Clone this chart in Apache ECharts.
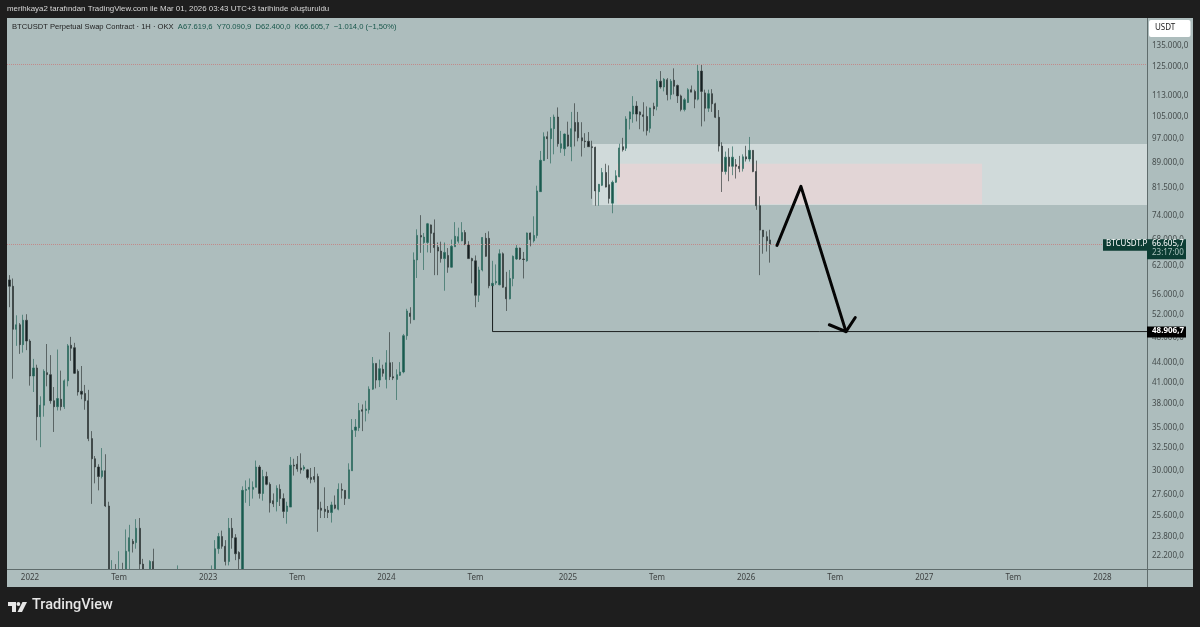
<!DOCTYPE html>
<html>
<head>
<meta charset="utf-8">
<style>
  html, body { margin: 0; padding: 0; background: #1e1e1e; }
  #main { width: 1200px; height: 627px; }
</style>
<script src="https://cdn.jsdelivr.net/npm/echarts@6/dist/echarts.min.js"></script>
</head>
<body>
<div id="main"></div>
<script>
// weekly candles
const firstWeek = '2021-11-22';

const opens = [
  58700,57400,49300,50100,46700,50900,47300,41800,43000,36200,
  37700,42300,42000,38300,37500,38500,37500,41100,46600,46200,
  42500,39600,39300,38300,33500,31200,30300,29300,29900,26400,
  19000,20900,19300,20800,20700,22500,23300,23200,24400,21500,
  20300,20000,21700,19400,18800,19000,19400,19300,19200,20600,
  20900,16300,16300,16400,17100,17100,16700,16800,16600,17100,
  20900,22700,23700,22900,21700,24400,23600,22400,20600,27900,
  28000,28000,28200,30300,27600,29300,28500,26900,26800,28000,
  27100,25900,26300,30500,30600,30200,30100,30000,29200,29300,
  29300,26200,26100,26000,25800,26500,26100,28000,27900,27100,
  29900,34500,34800,37100,37000,37100,39900,43700,41200,42800,
  41300,43800,41700,41300,41900,42400,48200,52200,51000,63000,
  68700,67000,67000,71300,69300,65900,65000,63300,64000,61400,
  66000,67300,67400,69400,66500,63300,62800,55600,60800,68000,
  68000,57500,58100,57700,64400,57200,54900,59000,63200,65700,
  63200,62800,69300,67400,68700,80200,89500,97400,96700,100200,
  104400,93500,93300,98000,94000,102400,102400,97000,95900,95800,
  94000,93800,80200,82000,85800,82200,77000,82900,84500,94000,
  93500,103700,105500,108500,106300,105200,104600,100300,108400,108400,
  118500,116100,119100,113000,118900,116700,112500,107200,109900,115000,
  114300,111200,122800,113700,107700,113400,109400,104300,94200,86100,
  90600,87700,88200,87700,87000,90700,90000,92800,86100,76300,
  70000,68400,67619.6
];
const closes = [
  57400,49300,50100,46700,50900,47300,41800,43000,36200,37700,
  42500,42000,38300,37500,38600,37500,41100,46500,46100,42200,
  39500,39200,38300,33500,31200,30300,29300,29900,26400,19000,
  21000,19300,20800,20700,22500,23600,23100,24400,21500,20300,
  20000,21700,19400,18800,19000,19400,19300,19200,20600,20900,
  16300,16300,16400,17100,17100,16700,16800,16600,17100,20900,
  22700,23700,22900,21700,24400,23600,22300,21900,27900,28000,
  28200,28200,30300,27600,29300,28500,26700,26600,28100,27100,
  25900,26400,30500,30400,30100,30000,30300,29200,29000,29000,
  26100,26000,25900,25800,26500,26200,28000,27900,27100,30000,
  34500,34900,37000,36900,37200,39900,43700,41200,42900,42200,
  43800,41700,41500,42000,42400,48200,52600,51600,63000,68700,
  68300,68300,71600,69200,65800,65000,63300,64700,61400,66100,
  68500,68400,69400,66500,63300,62800,55600,60800,68200,63800,
  57500,58000,58400,64400,57200,54900,59000,63800,65700,63200,
  63100,69300,67700,68700,80400,89600,97400,96700,100200,104400,
  95000,95000,98300,94200,100200,99300,97000,96000,95700,94000,
  93700,80400,82300,85800,81500,78300,82900,84800,93600,93000,
  103700,106300,108500,105500,105200,104600,99500,107800,107400,118500,
  116100,119300,113000,118500,116400,112500,107200,111000,115000,114000,
  111200,122800,114300,107700,113400,109400,104300,94200,86100,90600,
  87700,90600,87700,87000,90700,90000,92800,86100,76300,70000,
  68400,67400,66605.7
];
const highs = [
  59700,59000,51800,50400,51900,52000,47600,44400,43500,38900,
  42800,46800,45000,40200,45900,42600,41300,46800,48000,47000,
  42800,43300,40500,39800,34400,31500,30600,32400,31700,26800,
  21800,21500,22500,21600,24300,24700,23500,25200,25300,21900,
  20600,21800,22700,19900,20400,20400,19600,19700,21000,21400,
  21000,17000,16900,17400,17400,18300,17000,16900,17200,21400,
  23400,24000,24200,23400,25300,25300,23900,22500,28300,28900,
  29100,28800,31000,30500,30000,29800,28700,27600,28400,28500,
  27600,26800,31400,31200,31500,31800,30500,30100,30200,30300,
  29600,26800,28200,26400,26800,27400,28600,28600,27900,30700,
  35900,35900,38000,37800,38300,40300,44700,43700,44300,43500,
  45800,48800,43900,42800,43900,48500,53000,53300,64700,70200,
  73800,69300,71800,71400,72700,67000,67200,67000,65700,67700,
  72000,70600,72000,70000,67300,63500,64000,61500,68300,69300,
  69700,62800,62000,65400,64700,60400,60800,64000,66400,65800,
  64800,69400,69400,73500,81900,92600,98900,99200,104400,105300,
  108000,99400,98500,102700,106300,109600,106300,102500,98600,99000,
  96000,94000,82400,87200,88500,88000,83400,86500,95000,97000,
  104700,106500,112400,110400,106500,110000,108400,107900,109800,119400,
  122800,119800,119800,119400,124000,117100,113000,111700,115600,116700,
  115000,125600,125600,115000,115000,115200,109800,107000,95500,92400,
  93500,94100,90000,91000,91500,94300,97300,92800,89500,78900,
  70000,69700,70090.9
];
const lows = [
  53300,41400,46500,45200,45400,45800,40400,39500,33300,32500,
  36200,40300,37900,34300,37000,37000,37200,40300,44100,42100,
  39000,38500,37100,33200,26600,28600,27900,29100,26300,17600,
  18900,18600,18900,18900,20700,20700,22400,22700,21000,19500,
  19500,18500,19300,18100,18500,19000,18200,18900,19200,19900,
  15600,15800,15900,16400,16700,16300,16400,16300,16500,17000,
  20400,22300,22700,21400,21400,22700,21800,20000,19600,26700,
  26400,27100,28200,27100,26900,28400,25800,26300,25900,26400,
  25300,24800,26300,29400,29800,29600,29900,29000,28600,28700,
  24100,25300,25300,25300,24900,26100,26000,27100,26500,27100,
  29900,33700,34400,34400,35600,36600,39800,40000,40200,41700,
  40000,41200,41200,38400,41800,42200,47500,50300,51000,59100,
  64600,60800,64700,64600,59700,59700,62400,56500,60200,61300,
  66000,66800,67300,66400,63200,58000,53300,54300,60500,63700,
  57000,48906.7,57700,57600,57100,52600,54800,57400,63000,63000,
  59000,62600,66100,67000,68000,80100,89400,90000,88600,91500,
  94000,92000,91000,94000,89300,94100,95800,90800,93600,93900,
  78200,76300,76300,81800,81400,76900,74300,82700,84400,92400,
  92600,99900,102300,102800,100000,99200,97800,98800,104800,106900,
  115400,114300,110700,111100,113100,109700,106500,106500,109700,114000,
  107700,110700,101000,102800,106300,106300,104000,92400,80100,85200,
  83200,85000,84000,85900,86100,89200,89200,85900,75200,59700,
  64400,64900,62400
];

const priceTicks = [135000,125000,113000,105000,97000,89000,81500,74000,68000,62000,56000,52000,48000,44000,41000,38000,35000,32500,30000,27600,25600,23800,22200];
const dateTicks = ['2022-01-03','2022-07-04','2023-01-02','2023-07-03','2024-01-01','2024-07-01','2025-01-06','2025-07-07','2026-01-05','2026-07-06','2027-01-04','2027-07-05','2028-01-03'];
const dateLabels = ['2022','Tem','2023','Tem','2024','Tem','2025','Tem','2026','Tem','2027','Tem','2028'];

// drawings on the chart
const lastPrice = 66605.7;
const topLine = 125700;
const supportPrice = 48906.7;
const supportLine = [['2024-08-05', 57500], ['2024-08-05', supportPrice], ['2028-04-03', supportPrice]];
const arrowPath = [['2026-03-09', 66300], ['2026-04-27', 81700], ['2026-07-28', 48900]];
const arrowHead = [['2026-06-24', 50100], ['2026-07-28', 48900], ['2026-08-16', 51400]];
const zoneOuter = [['2025-02-25', 94900], ['2028-04-03', 76500]];
const zoneInner = [['2025-04-16', 88500], ['2027-05-02', 76700]];

const bg = '#adbdbd';
const dark = '#1e1e1e';
const uiFont = '"Noto Sans", sans-serif';
const textFont = '"Liberation Sans", sans-serif';
const yMin = 21130;
const yMax = 148150;
const WEEK = 7 * 24 * 3600 * 1000;
const t0 = new Date(firstWeek + 'T00:00:00Z').getTime();
const toTime = d => new Date(d + 'T00:00:00Z').getTime();
const fmtPrice = v => Math.round(v).toString().replace(/\B(?=(\d{3})+$)/g, '.') + ',0';
const candles = opens.map((o, i) => [t0 + i * WEEK, o, closes[i], lows[i], highs[i]]);
const stamp = arr => arr.map(p => [toTime(p[0]), p[1]]);

const chart = echarts.init(document.getElementById('main'), null, { renderer: 'canvas' });

chart.setOption({
  animation: false,
  backgroundColor: dark,
  grid: {
    left: 7, right: 53, top: 18, bottom: 58,
    show: true, backgroundColor: bg, borderWidth: 0
  },
  xAxis: {
    type: 'time',
    min: toTime('2021-11-17'),
    max: toTime('2028-04-03'),
    splitLine: { show: false },
    axisLine: { show: false },
    axisTick: { show: false },
    axisLabel: { show: false }
  },
  yAxis: {
    type: 'log',
    logBase: 10,
    position: 'right',
    min: yMin,
    max: yMax,
    splitLine: { show: false },
    axisLine: { show: false },
    axisTick: { show: false },
    axisLabel: { show: false }
  },
  series: [
    {
      name: 'zones',
      type: 'line',
      z: 1,
      data: [],
      markArea: {
        silent: true,
        itemStyle: { color: '#d0dada' },
        data: [
          [{ xAxis: toTime(zoneOuter[0][0]), yAxis: zoneOuter[0][1] }, { xAxis: toTime(zoneOuter[1][0]), yAxis: zoneOuter[1][1] }],
          [{ xAxis: toTime(zoneInner[0][0]), yAxis: zoneInner[0][1], itemStyle: { color: '#e2d5d6' } }, { xAxis: toTime(zoneInner[1][0]), yAxis: zoneInner[1][1] }]
        ]
      }
    },
    {
      name: 'BTCUSDT',
      type: 'candlestick',
      z: 3,
      barWidth: 1.7,
      encode: { x: 0, y: [1, 2, 3, 4] },
      data: candles,
      itemStyle: {
        color: '#1a5a4f',
        color0: '#152023',
        borderColor: 'rgba(44,106,94,0.68)',
        borderColor0: 'rgba(50,58,58,0.68)',
        borderWidth: 1
      },
      markLine: {
        silent: true,
        symbol: 'none',
        label: { show: false },
        lineStyle: { type: 'dotted', color: '#c28a8a', width: 1 },
        data: [{ yAxis: topLine }, { yAxis: lastPrice }]
      }
    },
    {
      name: 'support',
      type: 'line',
      z: 4,
      symbol: 'none',
      data: stamp(supportLine),
      lineStyle: { color: '#1c1f1f', width: 1 }
    },
    {
      name: 'arrow',
      type: 'line',
      z: 5,
      symbol: 'none',
      data: stamp(arrowPath),
      lineStyle: { color: '#050505', width: 3, cap: 'round', join: 'round' }
    },
    {
      name: 'arrowHead',
      type: 'line',
      z: 5,
      symbol: 'none',
      data: stamp(arrowHead),
      lineStyle: { color: '#050505', width: 3, cap: 'round', join: 'round' }
    },
    {
      name: 'dateLabels',
      type: 'scatter',
      z: 8,
      clip: false,
      silent: true,
      symbolSize: 0,
      data: dateTicks.map((d, i) => ({ value: [toTime(d), yMin], name: dateLabels[i] })),
      label: {
        show: true, position: 'bottom', distance: 5,
        formatter: p => p.name,
        color: '#222', fontFamily: uiFont, fontSize: 8
      }
    },
    {
      name: 'priceLabels',
      type: 'scatter',
      z: 8,
      clip: false,
      silent: true,
      symbolSize: 0,
      data: priceTicks.map(p => [toTime('2028-04-03'), p]),
      label: {
        show: true, position: 'right', distance: 5, offset: [0, 1],
        formatter: p => fmtPrice(p.value[1]),
        color: '#2a2f2f', fontFamily: uiFont, fontSize: 8
      }
    }
  ]
});

// overlays that follow the price scale
const lastY = chart.convertToPixel({ yAxisIndex: 0 }, lastPrice);
const supportY = chart.convertToPixel({ yAxisIndex: 0 }, supportPrice);

chart.setOption({
  graphic: [
    // price strip, time strip and footer sit over the candles that run below the axis
    { type: 'rect', z: -1, shape: { x: 1147, y: 18, width: 46, height: 569 }, style: { fill: bg } },
    { type: 'rect', z: 7, shape: { x: 7, y: 569, width: 1186, height: 18 }, style: { fill: bg } },
    { type: 'rect', z: 7, shape: { x: 0, y: 587, width: 1200, height: 40 }, style: { fill: dark } },
    { type: 'rect', z: 7, shape: { x: 7, y: 569, width: 1186, height: 1 }, style: { fill: '#5f6c6c' } },
    { type: 'rect', z: 7, shape: { x: 1147, y: 18, width: 1, height: 569 }, style: { fill: '#5f6c6c' } },
    { type: 'text', x: 7, y: 5, style: { text: 'merihkaya2 tarafından TradingView.com ile Mar 01, 2026 03:43 UTC+3 tarihinde oluşturuldu', fill: '#d8d8d8', font: '7.9px ' + textFont } },
    {
      type: 'text', x: 12, y: 23, z: 10,
      style: {
        text: 'BTCUSDT Perpetual Swap Contract · 1H · OKX  {v|A67.619,6  Y70.090,9  D62.400,0  K66.605,7  −1.014,0 (−1,50%)}',
        fill: '#222', font: '7.6px ' + textFont,
        rich: { v: { fill: '#17564a', font: '7.6px ' + textFont } }
      }
    },
    { type: 'rect', z: 10, shape: { x: 1149, y: 20, width: 41.5, height: 17, r: 2 }, style: { fill: '#fff' } },
    { type: 'text', z: 11, x: 1155, y: 24, style: { text: 'USDT', fill: '#222', font: '8px ' + uiFont } },

    { type: 'rect', z: 10, shape: { x: 1103, y: lastY - 5, width: 44, height: 11.5 }, style: { fill: '#0c3d33' } },
    { type: 'text', z: 11, x: 1106, y: lastY - 4.5, style: { text: 'BTCUSDT.P', fill: '#fff', font: '8px ' + uiFont } },
    { type: 'rect', z: 10, shape: { x: 1147, y: lastY - 5, width: 39, height: 20 }, style: { fill: '#0c3d33' } },
    { type: 'text', z: 11, x: 1152, y: lastY - 4.5, style: { text: '66.605,7', fill: '#fff', font: '8px ' + uiFont } },
    { type: 'text', z: 11, x: 1152, y: lastY + 5, style: { text: '23:17:00', fill: '#a9c2bc', font: '8px ' + uiFont } },
    { type: 'rect', z: 10, shape: { x: 1147, y: supportY - 5, width: 39, height: 11 }, style: { fill: '#000' } },
    { type: 'text', z: 11, x: 1152, y: supportY - 4.5, style: { text: '48.906,7', fill: '#fff', font: 'bold 8px ' + uiFont } },

    // TradingView mark
    { type: 'polygon', z: 9, shape: { points: [[8, 602], [16, 602], [16, 612], [12, 612], [12, 606], [8, 606]] }, style: { fill: '#e6e6e6' } },
    { type: 'circle', z: 9, shape: { cx: 18.4, cy: 604, r: 1.9 }, style: { fill: '#e6e6e6' } },
    { type: 'polygon', z: 9, shape: { points: [[22.5, 602], [27, 602], [22, 612], [17.5, 612]] }, style: { fill: '#e6e6e6' } },
    { type: 'text', z: 9, x: 32, y: 598, style: { text: 'TradingView', fill: '#e6e6e6', font: '500 14.5px Roboto, sans-serif' } }
  ]
});
</script>
</body>
</html>
